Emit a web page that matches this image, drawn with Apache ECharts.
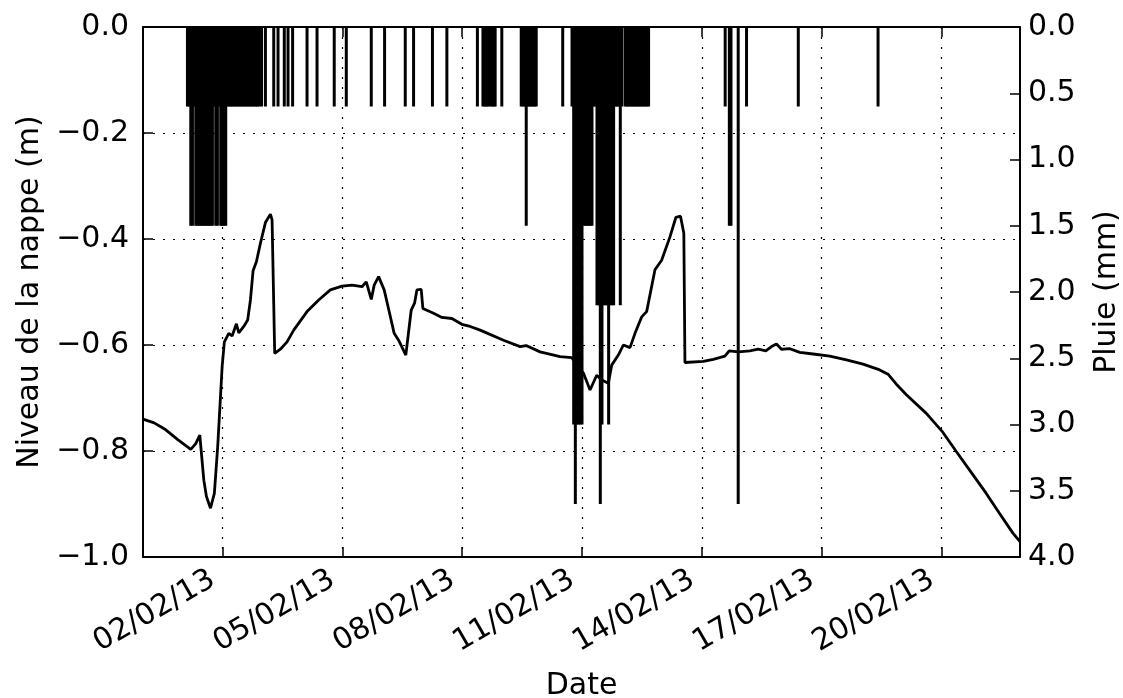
<!DOCTYPE html>
<html><head><meta charset="utf-8">
<script src="https://cdn.jsdelivr.net/npm/echarts@6/dist/echarts.min.js"></script>
<style>html,body{margin:0;padding:0;background:#fff}#c{width:1123px;height:698px}</style>
</head><body><div id="c"></div>
<script>
// Water table level (m)
const levelTimes = [
'2013-01-31 00:18','2013-01-31 07:00','2013-01-31 14:00','2013-01-31 21:00','2013-02-01 05:00','2013-02-01 08:00',
'2013-02-01 10:25','2013-02-01 12:50','2013-02-01 14:25','2013-02-01 16:50','2013-02-01 19:10','2013-02-01 21:10',
'2013-02-01 22:50','2013-02-01 23:50','2013-02-02 01:10','2013-02-02 03:50','2013-02-02 05:50','2013-02-02 08:25',
'2013-02-02 09:50','2013-02-02 12:50','2013-02-02 15:10','2013-02-02 16:50','2013-02-02 18:25','2013-02-02 20:25',
'2013-02-02 22:50','2013-02-03 01:50','2013-02-03 04:50','2013-02-03 05:50','2013-02-03 07:25','2013-02-03 10:50',
'2013-02-03 14:50','2013-02-03 18:50','2013-02-04 02:50','2013-02-04 09:50','2013-02-04 16:50','2013-02-04 23:50',
'2013-02-05 05:50','2013-02-05 11:50','2013-02-05 14:25','2013-02-05 17:25','2013-02-05 19:10','2013-02-05 21:50',
'2013-02-06 01:10','2013-02-06 04:25','2013-02-06 07:10','2013-02-06 09:50','2013-02-06 14:10','2013-02-06 17:25',
'2013-02-06 19:25','2013-02-06 20:50','2013-02-06 23:25','2013-02-07 00:25','2013-02-07 06:50','2013-02-07 11:50',
'2013-02-07 17:50','2013-02-07 23:50','2013-02-08 04:50','2013-02-08 10:50','2013-02-09 00:50','2013-02-09 10:50',
'2013-02-09 14:25','2013-02-09 22:50','2013-02-10 10:50','2013-02-10 17:50','2013-02-11 00:50','2013-02-11 04:50',
'2013-02-11 08:50','2013-02-11 11:50','2013-02-11 15:50','2013-02-11 17:50','2013-02-11 21:50','2013-02-12 00:50',
'2013-02-12 04:50','2013-02-12 07:50','2013-02-12 11:50','2013-02-12 14:50','2013-02-12 19:50','2013-02-12 23:50',
'2013-02-13 04:50','2013-02-13 08:25','2013-02-13 11:10','2013-02-13 13:10','2013-02-13 13:50','2013-02-14 00:50',
'2013-02-14 06:50','2013-02-14 13:50','2013-02-14 16:25','2013-02-14 21:50','2013-02-15 04:50','2013-02-15 09:50',
'2013-02-15 14:25','2013-02-15 17:50','2013-02-15 20:50','2013-02-15 23:50','2013-02-16 04:50','2013-02-16 10:50',
'2013-02-16 18:50','2013-02-17 04:50','2013-02-17 14:50','2013-02-18 00:50','2013-02-18 10:50','2013-02-18 15:50',
'2013-02-18 20:50','2013-02-19 02:50','2013-02-19 14:50','2013-02-20 00:50','2013-02-20 08:50','2013-02-20 16:50',
'2013-02-21 02:50','2013-02-21 10:50','2013-02-21 18:50','2013-02-21 23:06'
];
const levelValues = [
-0.740,-0.747,-0.760,-0.778,-0.797,-0.786,
-0.770,-0.855,-0.886,-0.908,-0.880,-0.792,
-0.698,-0.641,-0.594,-0.578,-0.583,-0.560,
-0.577,-0.565,-0.553,-0.515,-0.460,-0.443,
-0.408,-0.369,-0.353,-0.364,-0.616,-0.608,
-0.594,-0.572,-0.537,-0.515,-0.496,-0.489,
-0.487,-0.490,-0.481,-0.514,-0.487,-0.471,
-0.496,-0.540,-0.578,-0.591,-0.619,-0.534,
-0.521,-0.496,-0.495,-0.531,-0.540,-0.548,
-0.550,-0.561,-0.565,-0.572,-0.591,-0.603,
-0.601,-0.613,-0.622,-0.624,-0.653,-0.685,
-0.657,-0.666,-0.672,-0.638,-0.619,-0.600,
-0.605,-0.578,-0.547,-0.537,-0.458,-0.440,
-0.396,-0.359,-0.357,-0.389,-0.633,-0.631,
-0.627,-0.621,-0.611,-0.613,-0.611,-0.608,
-0.611,-0.603,-0.598,-0.608,-0.607,-0.614,
-0.617,-0.621,-0.628,-0.636,-0.647,-0.655,
-0.674,-0.694,-0.729,-0.765,-0.801,-0.836,
-0.880,-0.918,-0.955,-0.971
];
// Rainfall (mm)
const rainTimes = [
'2013-02-01 03:00','2013-02-01 04:00','2013-02-01 05:00','2013-02-01 06:00','2013-02-01 07:00','2013-02-01 08:00',
'2013-02-01 09:00','2013-02-01 10:00','2013-02-01 11:00','2013-02-01 12:00','2013-02-01 13:00','2013-02-01 14:00',
'2013-02-01 15:00','2013-02-01 16:00','2013-02-01 17:00','2013-02-01 18:00','2013-02-01 19:00','2013-02-01 20:00',
'2013-02-01 21:00','2013-02-01 22:00','2013-02-01 23:00','2013-02-02 00:00','2013-02-02 01:00','2013-02-02 02:00',
'2013-02-02 03:00','2013-02-02 04:00','2013-02-02 05:00','2013-02-02 06:00','2013-02-02 07:00','2013-02-02 08:00',
'2013-02-02 09:00','2013-02-02 10:00','2013-02-02 11:00','2013-02-02 12:00','2013-02-02 13:00','2013-02-02 14:00',
'2013-02-02 15:00','2013-02-02 16:00','2013-02-02 17:00','2013-02-02 18:00','2013-02-02 19:00','2013-02-02 20:00',
'2013-02-02 21:00','2013-02-02 22:00','2013-02-02 23:30','2013-02-03 01:50','2013-02-03 06:50','2013-02-03 09:25',
'2013-02-03 13:10','2013-02-03 15:25','2013-02-03 18:10','2013-02-04 02:50','2013-02-04 08:50','2013-02-04 19:10',
'2013-02-05 02:25','2013-02-05 17:25','2013-02-06 01:25','2013-02-06 13:50','2013-02-06 18:50','2013-02-07 06:10',
'2013-02-07 14:50','2013-02-08 09:10','2013-02-08 12:30','2013-02-08 13:30','2013-02-08 14:30','2013-02-08 15:30',
'2013-02-08 16:50','2013-02-08 18:00','2013-02-08 19:00','2013-02-08 19:50','2013-02-08 23:50','2013-02-09 11:30',
'2013-02-09 12:30','2013-02-09 13:30','2013-02-09 14:30','2013-02-09 15:30','2013-02-09 16:30','2013-02-09 17:30',
'2013-02-09 18:30','2013-02-09 19:30','2013-02-09 20:30','2013-02-10 12:25','2013-02-10 18:00','2013-02-10 19:00',
'2013-02-10 20:00','2013-02-10 21:00','2013-02-10 22:00','2013-02-10 23:00','2013-02-11 00:00','2013-02-11 01:00',
'2013-02-11 02:00','2013-02-11 03:00','2013-02-11 04:00','2013-02-11 05:00','2013-02-11 06:00','2013-02-11 07:00',
'2013-02-11 08:00','2013-02-11 09:00','2013-02-11 10:00','2013-02-11 11:00','2013-02-11 12:00','2013-02-11 13:00',
'2013-02-11 14:00','2013-02-11 15:00','2013-02-11 16:00','2013-02-11 17:00','2013-02-11 18:00','2013-02-11 19:00',
'2013-02-11 20:00','2013-02-11 21:00','2013-02-11 22:00','2013-02-11 23:00','2013-02-12 00:00','2013-02-12 02:00',
'2013-02-12 03:00','2013-02-12 04:00','2013-02-12 05:00','2013-02-12 06:00','2013-02-12 07:00','2013-02-12 08:00',
'2013-02-12 09:00','2013-02-12 10:00','2013-02-12 11:00','2013-02-12 12:00','2013-02-12 13:00','2013-02-12 14:00',
'2013-02-12 15:00','2013-02-12 16:00','2013-02-14 14:00','2013-02-14 16:30','2013-02-14 17:30','2013-02-14 21:50',
'2013-02-15 02:50','2013-02-16 09:55','2013-02-18 09:50'
];
const rainMm = [
0.6,0.6,1.5,1.5,0.6,1.5,
1.5,1.5,1.5,1.5,1.5,1.5,
1.5,1.5,1.5,1.5,0.6,1.5,
1.5,0.6,1.5,1.5,1.5,1.5,
0.6,0.6,0.6,0.6,0.6,0.6,
0.6,0.6,0.6,0.6,0.6,0.6,
0.6,0.6,0.6,0.6,0.6,0.6,
0.6,0.6,0.6,0.6,0.6,0.6,
0.6,0.6,0.6,0.6,0.6,0.6,
0.6,0.6,0.6,0.6,0.6,0.6,
0.6,0.6,0.6,0.6,0.6,0.6,
0.6,0.6,0.6,0.6,0.6,0.6,
0.6,0.6,1.5,0.6,0.6,0.6,
0.6,0.6,0.6,0.6,0.6,3.0,
3.6,3.0,3.0,3.0,3.0,1.5,
1.5,1.5,1.5,1.5,1.5,0.6,
0.6,2.1,2.1,3.6,3.0,2.1,
2.1,2.1,3.0,2.1,2.1,2.1,
0.6,0.6,0.6,2.1,0.6,0.6,
0.6,0.6,0.6,0.6,0.6,0.6,
0.6,0.6,0.6,0.6,0.6,0.6,
0.6,0.6,0.6,1.5,1.5,3.6,
0.6,0.6,0.6
];
const dateTicks = ['2013-02-02','2013-02-05','2013-02-08','2013-02-11','2013-02-14','2013-02-17','2013-02-20'];
const xStart = '2013-01-31 00:18';
const xEnd = '2013-02-21 23:06';

function toMs(s) {
  const m = s.match(/(\d+)-(\d+)-(\d+)(?: (\d+):(\d+))?/);
  return new Date(+m[1], +m[2] - 1, +m[3], +(m[4] || 0), +(m[5] || 0)).getTime();
}
function pad(n) { return (n < 10 ? '0' : '') + n; }
function fmtDate(v) {
  const d = new Date(v);
  return pad(d.getDate()) + '/' + pad(d.getMonth() + 1) + '/' + String(d.getFullYear()).slice(2);
}
const FONT = 'DejaVu Sans';
const tickVals = dateTicks.map(toMs);
const xMin = toMs(xStart), xMax = toMs(xEnd);

const chart = echarts.init(document.getElementById('c'), null, {renderer: 'canvas'});
chart.setOption({
  animation: false,
  backgroundColor: '#fff',
  grid: {left: 143, right: 103, top: 27, bottom: 141, containLabel: false, outerBoundsMode: 'none'},
  xAxis: [{
    type: 'value', min: xMin, max: xMax, position: 'bottom', scale: true,
    name: 'Date', nameLocation: 'middle', nameGap: 114,
    nameTextStyle: {fontFamily: FONT, fontSize: 30, color: '#000'},
    axisLine: {onZero: false, lineStyle: {color: '#000', width: 2}},
    axisTick: {inside: true, length: 10, customValues: tickVals, lineStyle: {color: '#000', width: 1.5}},
    axisLabel: {customValues: tickVals, rotate: 30, margin: 15, formatter: fmtDate,
      padding: [0, 11, 0, 0],
      fontFamily: FONT, fontSize: 30, color: '#000'},
    splitLine: {show: true, lineStyle: {color: '#000', width: 1.2, type: [2, 8]}}
  }, {
    type: 'value', min: xMin, max: xMax, position: 'top', scale: true,
    axisLine: {onZero: false, lineStyle: {color: '#000', width: 2}},
    axisTick: {inside: true, length: 10, customValues: tickVals, lineStyle: {color: '#000', width: 1.5}},
    axisLabel: {show: false},
    splitLine: {show: false}
  }],
  yAxis: [{
    type: 'value', min: -1, max: 0, interval: 0.2, position: 'left',
    name: 'Niveau de la nappe (m)', nameLocation: 'middle', nameGap: 98, nameRotate: 90,
    nameTextStyle: {fontFamily: FONT, fontSize: 30, color: '#000'},
    axisLine: {show: true, onZero: false, lineStyle: {color: '#000', width: 2}},
    axisTick: {show: true, inside: true, length: 10, lineStyle: {color: '#000', width: 1.5}},
    axisLabel: {margin: 14, fontFamily: FONT, fontSize: 30, color: '#000',
      formatter: v => (v < -1e-9 ? '\u2212' : '') + Math.abs(v).toFixed(1)},
    splitLine: {show: true, lineStyle: {color: '#000', width: 1.2, type: [2, 8]}}
  }, {
    type: 'value', min: 0, max: 4, interval: 0.5, position: 'right', inverse: true,
    name: 'Pluie (mm)', nameLocation: 'middle', nameGap: 72, nameRotate: 90,
    nameTextStyle: {fontFamily: FONT, fontSize: 30, color: '#000'},
    axisLine: {show: true, onZero: false, lineStyle: {color: '#000', width: 2}},
    axisTick: {show: true, inside: true, length: 10, lineStyle: {color: '#000', width: 1.5}},
    axisLabel: {margin: 8, fontFamily: FONT, fontSize: 30, color: '#000',
      formatter: v => v.toFixed(1)},
    splitLine: {show: false}
  }],
  series: [{
    type: 'bar', name: 'Pluie', xAxisIndex: 0, yAxisIndex: 1,
    barWidth: 3, itemStyle: {color: '#000'},
    data: rainTimes.map((t, i) => [toMs(t), rainMm[i]]),
    z: 2
  }, {
    type: 'line', name: 'Niveau', xAxisIndex: 0, yAxisIndex: 0,
    showSymbol: false, symbol: 'none',
    lineStyle: {color: '#000', width: 2.8},
    data: levelTimes.map((t, i) => [toMs(t), levelValues[i]]),
    z: 3
  }]
});
</script></body></html>
